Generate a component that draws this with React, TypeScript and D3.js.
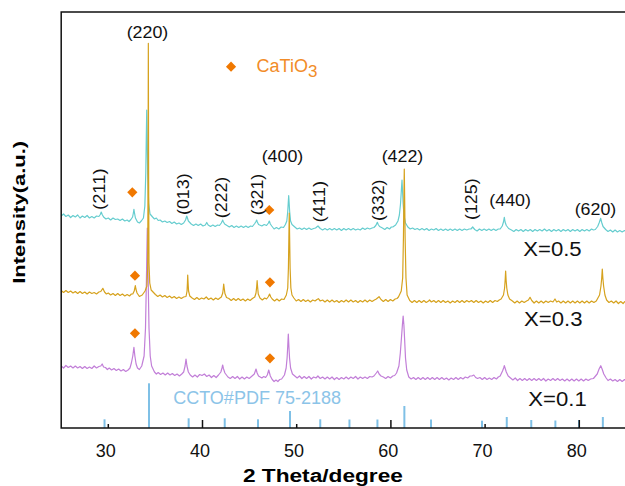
import React from 'react';
import * as d3 from 'd3';

type P = [number, number];

// 2θ range and intensity range (a.u.)
const xDomain: P = [25, 85];
const yDomain: P = [0, 416];
const xTicks = [30, 40, 50, 60, 70, 80];

// X = 0.5 pattern (2θ, intensity)
const traceX05: P[] = [[25,212],[25.25,214],[25.5,211.5],[25.75,213],[26,210.5],[26.25,212.5],[26.5,211],[26.75,213],[27,210],[27.25,212],[27.5,210.5],[27.75,212.5],[28,210],[28.25,211.5],[28.5,210],[28.75,212],[29,211.5],[29.15,213.5],[29.25,216],[29.35,213.5],[29.5,211],[29.75,209],[30,210],[30.25,208],[30.5,210],[30.75,208.5],[31,209],[31.25,207.5],[31.5,209],[31.75,207],[32,208],[32.2,206.5],[32.4,208.5],[32.58,211],[32.66,215],[32.72,218.7],[32.78,215],[32.88,210],[33.1,206],[33.3,205],[33.5,207],[33.73,210],[33.88,222],[33.98,255],[34.03,288],[34.08,318],[34.13,288],[34.18,255],[34.28,225],[34.43,214],[34.7,211],[34.9,209],[35.1,210],[35.3,207.5],[35.5,208],[35.75,206],[36,207],[36.25,205.5],[36.5,206.5],[36.75,204.5],[37,206],[37.25,204],[37.5,205],[37.75,203.5],[38,205],[38.2,208],[38.28,210.5],[38.33,212],[38.4,210],[38.5,207],[38.8,204],[39.05,202.5],[39.3,204],[39.55,202.5],[39.8,204],[40.05,202],[40.3,203],[40.45,205.5],[40.6,203],[40.85,201.5],[41.1,203],[41.35,201.5],[41.6,203],[41.8,202.5],[42,205],[42.1,207],[42.14,208],[42.2,206.5],[42.35,204],[42.6,202.5],[42.85,201],[43.1,202.5],[43.35,200.5],[43.6,202],[43.85,200.5],[44.1,202],[44.35,200.5],[44.6,202],[44.85,200.5],[45.1,202],[45.3,201.5],[45.55,204.5],[45.68,206.5],[45.75,208],[45.82,206],[45.95,203.5],[46.3,202],[46.55,203.5],[46.8,202.5],[47,205],[47.09,207],[47.2,204],[47.35,202],[47.6,199],[47.85,200.5],[48.1,199],[48.35,201],[48.6,200.5],[48.8,203.5],[48.95,207],[49.05,216.5],[49.1,224.5],[49.15,232.3],[49.2,224.5],[49.25,216.5],[49.35,207],[49.5,203.5],[49.8,201],[50.05,199],[50.3,200],[50.55,198.5],[50.8,200],[51.05,198.5],[51.3,200],[51.55,198.5],[51.8,199.5],[52,200],[52.26,202],[52.5,199.5],[52.75,198],[53,199.5],[53.25,198],[53.5,199.5],[53.75,198],[54,199.5],[54.25,198],[54.5,199.5],[54.75,197.5],[55,199.5],[55.25,198],[55.5,199.5],[55.75,198],[56,199.5],[56.25,198],[56.5,199],[56.75,198],[57,200],[57.25,198.5],[57.5,200],[57.75,199],[58,200],[58.2,200.5],[58.4,202.5],[58.5,204.5],[58.56,205.7],[58.65,203.5],[58.8,201.5],[59.1,200],[59.35,198.5],[59.6,200.5],[59.85,199],[60.05,201],[60.2,201],[60.5,203],[60.75,207],[60.9,213],[61.02,224],[61.1,236],[61.18,248],[61.24,236],[61.3,224],[61.4,212],[61.55,205],[61.8,201],[62.05,199],[62.3,200],[62.55,198.5],[62.8,199.5],[63.05,198],[63.3,199.5],[63.55,198],[63.8,199.5],[64.05,197.5],[64.3,199],[64.55,198],[64.8,199.5],[65.05,197.5],[65.3,199],[65.55,197.5],[65.8,199],[66.05,197.5],[66.3,199],[66.55,197.5],[66.8,199],[67.05,197.5],[67.3,199],[67.55,197.5],[67.8,199],[68.05,198],[68.3,199],[68.5,199],[68.68,201],[68.9,198.5],[69.15,197],[69.4,199],[69.65,197.5],[69.9,199],[70.15,197.5],[70.4,199],[70.65,197.5],[70.9,199],[71.15,197.5],[71.4,199],[71.6,199],[71.82,202],[71.95,206],[72.04,210.7],[72.12,206],[72.25,202.5],[72.5,199.5],[72.8,198],[73.05,196.5],[73.3,198.5],[73.55,197],[73.8,198.5],[74.05,196.5],[74.3,198.5],[74.55,197],[74.8,198.5],[75.05,196.5],[75.3,198.5],[75.55,197],[75.8,198.5],[76.05,197],[76.3,199],[76.55,197],[76.8,198.5],[77.05,196.5],[77.3,198.5],[77.55,197],[77.8,198.5],[78.05,196.5],[78.3,198.5],[78.55,197],[78.8,198.5],[79.05,196.5],[79.3,198.5],[79.55,197],[79.8,198.5],[80.05,196.5],[80.3,198.5],[80.55,197],[80.8,198.5],[81.05,197],[81.3,199],[81.5,198],[81.7,198.5],[81.95,201.5],[82.12,205.5],[82.27,209.7],[82.38,205.5],[82.52,201.5],[82.8,198.5],[83.05,196.5],[83.3,198],[83.55,196],[83.8,198],[84.05,196],[84.3,197.5],[84.55,196],[84.8,197.5],[85,196.5]];

// X = 0.3 pattern
const traceX03: P[] = [[25,137.5],[25.25,135.5],[25.5,137.5],[25.75,135.5],[26,137],[26.25,135],[26.5,136.5],[26.75,134.5],[27,136.5],[27.25,134.5],[27.5,136],[27.75,134],[28,136],[28.25,134.5],[28.5,135.5],[28.75,134],[29,136],[29.2,136.5],[29.42,139.7],[29.6,136],[29.8,134],[30,135],[30.25,133],[30.5,134.5],[30.75,132.5],[31,134.5],[31.25,132.5],[31.5,134],[31.75,132],[32,133.5],[32.25,132],[32.45,134],[32.6,134],[32.75,137],[32.82,140],[32.87,142.3],[32.93,139],[33.05,135],[33.3,131.5],[33.6,133],[33.9,137],[34.1,142],[34.18,160],[34.22,250],[34.25,384.7],[34.28,250],[34.32,165],[34.4,145],[34.55,138],[34.75,136],[35,133.5],[35.25,131.5],[35.5,133],[35.75,131],[36,132.5],[36.25,130.5],[36.5,132],[36.75,130],[37,131.5],[37.25,129.5],[37.5,131],[37.75,129.5],[38,131],[38.25,131.5],[38.36,137],[38.4,145],[38.43,153],[38.47,145],[38.52,137],[38.65,132],[38.9,130],[39.15,128.5],[39.4,130.5],[39.65,128.5],[39.9,130],[40.15,129],[40.4,131],[40.65,128.5],[40.9,130],[41.15,128],[41.4,130],[41.65,128.5],[41.85,130],[42,131],[42.15,135],[42.21,140],[42.25,144],[42.3,140],[42.38,134.5],[42.55,130.5],[42.8,129.5],[43.05,127.5],[43.3,129.5],[43.55,127.5],[43.8,129.5],[44.05,127.5],[44.3,129],[44.55,127],[44.8,129],[45.05,127.5],[45.3,129.5],[45.55,131],[45.68,135],[45.75,141],[45.8,147.3],[45.85,141],[45.92,134],[46.1,130],[46.35,128],[46.6,130],[46.8,129],[47,131.5],[47.12,134],[47.25,131],[47.4,129],[47.65,127],[47.9,129],[48.15,127],[48.4,129],[48.65,128.5],[48.9,133],[49.05,140],[49.12,160],[49.17,190],[49.21,215],[49.25,190],[49.3,160],[49.38,140],[49.5,133],[49.7,130],[49.95,127],[50.2,128.5],[50.45,126.5],[50.7,128.5],[50.95,126.5],[51.2,128],[51.45,126],[51.7,128],[51.95,127],[52.15,128.5],[52.3,129.3],[52.5,127],[52.75,128],[53,126],[53.25,128],[53.5,126],[53.75,128],[54,126],[54.25,127.5],[54.5,125.5],[54.75,127.5],[55,126],[55.25,128],[55.5,126],[55.75,128],[56,126],[56.25,127.5],[56.5,125.5],[56.75,127.5],[57,126],[57.25,128],[57.5,126],[57.75,128],[58,126.5],[58.25,128],[58.45,129],[58.74,131.3],[58.95,128.5],[59.2,126.5],[59.45,128.5],[59.7,126.5],[59.95,128.5],[60.2,127],[60.45,129],[60.65,129.5],[60.8,131],[61.1,137],[61.25,150],[61.33,190],[61.38,230],[61.42,259],[61.46,230],[61.51,190],[61.6,150],[61.72,133],[62,127.5],[62.25,125.5],[62.5,127.5],[62.75,125.5],[63,127.5],[63.25,125.5],[63.5,127.5],[63.75,125.5],[64,127],[64.1,128],[64.3,126],[64.55,127.5],[64.8,125.5],[65.05,127.5],[65.3,125.5],[65.55,127.5],[65.8,125.5],[66.05,127],[66.3,125],[66.55,127],[66.8,125.5],[67.05,127.5],[67.3,125.5],[67.55,127.5],[67.8,125.5],[68.05,127.5],[68.3,126],[68.55,127.5],[68.8,125.5],[69.05,127.5],[69.3,125.5],[69.55,127],[69.8,125],[70.05,127],[70.3,125.5],[70.55,127.5],[70.8,125.5],[71.05,127.5],[71.3,126.5],[71.5,128],[71.7,129],[71.95,133],[72.07,140],[72.13,148],[72.18,157],[72.23,148],[72.3,140],[72.42,133],[72.6,129],[72.9,127],[73.15,125],[73.4,127],[73.65,125],[73.9,127],[74.15,125.5],[74.4,127],[74.6,128],[74.77,130.7],[74.95,127.5],[75.2,125],[75.45,127],[75.7,125],[75.95,127],[76.2,125],[76.45,127],[76.7,125.5],[76.95,127],[77.2,126],[77.42,129],[77.6,126],[77.8,127],[78.05,125],[78.3,127],[78.55,125],[78.8,127],[79.05,125],[79.3,127],[79.55,125],[79.8,127],[80.05,125],[80.3,127],[80.55,125],[80.8,127],[81.05,125],[81.3,127],[81.55,125.5],[81.8,127],[82.15,133],[82.3,142],[82.38,150],[82.44,159],[82.5,150],[82.58,142],[82.72,133],[82.9,128],[83.15,125.5],[83.4,127],[83.65,125],[83.9,127],[84.15,124.5],[84.4,126.5],[84.65,124.5],[84.85,126.5],[85,125.5]];

// X = 0.1 pattern
const traceX01: P[] = [[25,62],[25.25,60],[25.5,62.5],[25.75,60.5],[26,62],[26.25,60],[26.5,62],[26.75,60],[27,61.5],[27.25,59.5],[27.5,61.5],[27.75,59.5],[28,61],[28.25,59.5],[28.5,62],[28.75,60],[29,61.5],[29.2,62],[29.35,64],[29.5,61],[29.7,60.5],[29.9,58.5],[30.1,60],[30.35,58],[30.6,59.5],[30.85,57.5],[31.1,59],[31.35,57],[31.6,58.5],[31.85,56.5],[32.1,58],[32.3,60],[32.45,65],[32.6,72],[32.72,80.7],[32.82,72],[32.95,64],[33.1,60],[33.3,58.5],[33.55,62],[33.8,72],[33.95,100],[34.05,150],[34.14,200],[34.23,150],[34.32,100],[34.45,72],[34.6,62],[34.9,56],[35.1,54],[35.3,55.5],[35.55,53.5],[35.8,55],[36.05,53],[36.3,55],[36.55,53],[36.8,54.5],[37.05,52.5],[37.3,54],[37.55,52],[37.8,54],[38,56],[38.15,62],[38.25,69],[38.35,62],[38.5,56],[38.7,53],[38.95,51],[39.2,53],[39.45,51],[39.7,53.5],[39.95,52.5],[40.2,54],[40.45,51.5],[40.7,53],[40.95,50.5],[41.2,52.5],[41.45,50.5],[41.7,53],[41.95,56],[42.07,60],[42.14,63],[42.22,59.5],[42.38,55],[42.7,51],[42.95,49.5],[43.2,51.5],[43.45,49.5],[43.7,51.5],[43.95,49],[44.2,51],[44.45,49],[44.7,51],[44.95,49.5],[45.2,51.5],[45.5,54],[45.68,59],[45.8,55],[45.95,52],[46.3,50],[46.5,51.5],[46.7,50.5],[46.88,53],[47.03,58],[47.2,52],[47.4,48.5],[47.6,46.5],[47.8,48],[48,46.5],[48.2,48.5],[48.4,49],[48.7,53],[48.88,60],[48.98,70],[49.05,82],[49.11,94],[49.17,82],[49.24,70],[49.35,60],[49.55,54],[49.8,52],[50.05,50],[50.3,52],[50.55,49.5],[50.8,51.5],[51.05,49.5],[51.3,51.5],[51.55,49],[51.8,51],[52.05,50],[52.25,52],[52.5,49.5],[52.75,51],[53,49],[53.25,51],[53.5,49],[53.75,51],[54,48.5],[54.25,50.5],[54.5,48.5],[54.75,50.5],[55,49],[55.25,51],[55.5,49],[55.75,51],[56,49.5],[56.25,51.5],[56.5,49],[56.75,51],[57,49.5],[57.25,51],[57.5,49.5],[57.75,51.5],[58,51],[58.2,52],[58.45,55],[58.6,57],[58.75,54],[58.95,52],[59.2,51],[59.45,49.5],[59.7,51.5],[59.95,50],[60.2,52],[60.4,52.5],[60.6,55],[60.85,62],[61,75],[61.12,90],[61.22,103],[61.3,112],[61.38,103],[61.46,88],[61.55,70],[61.68,58],[61.9,51],[62.15,49],[62.4,50.5],[62.65,48.5],[62.9,50.5],[63.15,48.5],[63.4,50.5],[63.65,48.5],[63.9,50.5],[64.15,48.5],[64.4,50.5],[64.65,48.5],[64.9,50.5],[65.15,48.5],[65.4,50.5],[65.65,48.5],[65.9,50],[66.15,48],[66.4,50],[66.65,48.5],[66.9,50.5],[67.15,48.5],[67.4,50.5],[67.65,49],[67.9,51],[68.15,50],[68.4,52],[68.6,52],[68.8,53],[69,50.5],[69.2,49.5],[69.45,50.5],[69.7,48.5],[69.95,50.5],[70.2,48.5],[70.45,50],[70.7,48.5],[70.95,50.5],[71.2,49],[71.4,51],[71.6,52],[71.85,57],[71.97,60],[72.04,62.3],[72.12,60],[72.25,56],[72.45,52],[72.7,50],[72.95,48],[73.2,50],[73.45,47.5],[73.7,49.5],[73.95,47.5],[74.2,49.5],[74.45,47.5],[74.7,49.5],[74.95,47.5],[75.2,49.5],[75.45,47.5],[75.7,49.5],[75.95,47.5],[76.2,49.5],[76.45,47],[76.7,49],[76.95,47.5],[77.2,49.5],[77.45,47.5],[77.7,49.5],[77.95,47.5],[78.2,49],[78.45,47],[78.7,49],[78.95,47],[79.2,49],[79.45,47],[79.7,49],[79.95,47],[80.2,49],[80.45,47],[80.7,49],[80.95,47.5],[81.2,49],[81.5,49.5],[81.9,54],[82.1,59],[82.28,62.3],[82.42,59],[82.6,54],[82.85,50],[83.05,47.5],[83.3,49],[83.55,47],[83.8,48.5],[84.05,46.5],[84.3,48.5],[84.55,46.5],[84.8,48.5],[85,47]];

// CCTO reference pattern (PDF 75-2188): 2θ, relative stick height
const refPos = [29.6, 34.32, 38.53, 42.36, 45.89, 49.29, 52.5, 55.6, 58.57, 61.43, 64.26, 69.67, 72.3, 74.9, 77.46, 79.97, 82.5];
const refHeight = [8.7, 44.7, 9.7, 9.7, 8.7, 17, 8.7, 8.5, 8.5, 22, 8.5, 7.3, 11, 8, 7.5, 8, 11];

// CaTiO3 markers (2θ, intensity)
const caTiO3Marks: P[] = [[32.55, 235.7], [47.09, 218], [32.83, 152.3], [47.16, 145.7], [32.83, 94.7], [47.16, 69.7]];

// hkl labels: text, 2θ, intensity, rotated
const hklLabels: [string, number, number, boolean][] = [
  ['(220)', 34.16, 390, false],
  ['(400)', 48.49, 266.5, false],
  ['(422)', 61.23, 266.5, false],
  ['(440)', 72.66, 222.3, false],
  ['(620)', 81.72, 213.3, false],
  ['(211)', 29.2, 238.8, true],
  ['(013)', 38.11, 233.8, true],
  ['(222)', 42.16, 230.5, true],
  ['(321)', 45.97, 233.5, true],
  ['(411)', 52.56, 226.3, true],
  ['(332)', 58.76, 227.7, true],
  ['(125)', 68.66, 228.8, true],
];

// sample labels: text, 2θ (center), intensity (baseline)
const sampleLabels: [string, number, number][] = [
  ['X=0.5', 77.15, 172],
  ['X=0.3', 77.24, 102],
  ['X=0.1', 77.69, 22],
];

const legendMark: P = [43.03, 361.3];
const legendText: P = [45.74, 355.7];
const refLabel: P = [36.89, 24];

const FONT = '"Liberation Sans", Arial, Helvetica, sans-serif';

export default function App() {
  const W = 625, H = 486;
  const top = 12, bottom = 428;
  const x = d3.scaleLinear().domain(xDomain).range([61.2, 626.4]);
  const y = d3.scaleLinear().domain(yDomain).range([bottom, top]);
  const line = d3.line<P>().x(d => x(d[0])).y(d => y(d[1]));
  const diamond = d3.symbol().type(d3.symbolSquare).size(52)() as string;

  const series: [P[], string][] = [
    [traceX01, '#C27FD8'],
    [traceX05, '#66CDCF'],
    [traceX03, '#D6A21E'],
  ];

  return (
    <svg width={W} height={H} style={{ position: 'absolute', left: 0, top: 0, background: '#fff' }} fontFamily={FONT}>
      <rect x={0} y={0} width={W} height={H} fill="#fff" />
      {/* reference sticks */}
      {refPos.map((p, i) => (
        <line key={'r' + i} x1={x(p)} x2={x(p)} y1={y(0)} y2={y(refHeight[i])} stroke="#7FC0E6" strokeWidth={2} />
      ))}
      <text x={x(refLabel[0])} y={y(refLabel[1])} fontSize={18} fill="#8CC4E8">CCTO#PDF 75-2188</text>

      {/* traces */}
      {series.map(([d, c], i) => (
        <path key={'s' + i} d={line(d) as string} fill="none" stroke={c} strokeWidth={1.2} strokeLinejoin="round" />
      ))}

      {/* CaTiO3 markers */}
      {caTiO3Marks.map((m, i) => (
        <path key={'m' + i} d={diamond} transform={`translate(${x(m[0])},${y(m[1])}) rotate(45)`} fill="#F07800" />
      ))}
      <path d={diamond} transform={`translate(${x(legendMark[0])},${y(legendMark[1])}) rotate(45)`} fill="#F07800" />
      <text x={x(legendText[0])} y={y(legendText[1])} fontSize={18} fill="#F28C28">
        CaTiO<tspan fontSize={17} dy={5}>3</tspan>
      </text>

      {/* hkl labels */}
      {hklLabels.map(([t, p, v, rot], i) =>
        rot ? (
          <text key={'h' + i} transform={`translate(${x(p)},${y(v)}) rotate(-90)`} textAnchor="middle" dy="0.26em"
            fontSize={16.5} textLength={41.6} lengthAdjust="spacingAndGlyphs" fill="#111">{t}</text>
        ) : (
          <text key={'h' + i} x={x(p)} y={y(v)} textAnchor="middle" fontSize={16.5} textLength={41.6}
            lengthAdjust="spacingAndGlyphs" fill="#111">{t}</text>
        )
      )}

      {/* sample labels */}
      {sampleLabels.map(([t, p, v], i) => (
        <text key={'l' + i} x={x(p)} y={y(v)} textAnchor="middle" fontSize={20} textLength={58.4}
          lengthAdjust="spacingAndGlyphs" fill="#111">{t}</text>
      ))}

      {/* frame */}
      <rect x={x(xDomain[0])} y={top} width={x(xDomain[1]) - x(xDomain[0])} height={bottom - top} fill="none" stroke="#111" strokeWidth={1.5} />
      {xTicks.map((t, i) => (
        <g key={'t' + i}>
          <line x1={x(t)} x2={x(t)} y1={bottom} y2={bottom - (i % 2 === 0 ? 4 : 8)} stroke="#111" strokeWidth={1.5} />
          <text x={x(t) - 2.6} y={456.7} textAnchor="middle" fontSize={18} fill="#111">{t}</text>
        </g>
      ))}

      {/* axis titles */}
      <text x={322.9} y={481.5} textAnchor="middle" fontSize={18} fontWeight="bold" textLength={160}
        lengthAdjust="spacingAndGlyphs" fill="#000">2 Theta/degree</text>
      <text transform={`translate(25,212.3) rotate(-90)`} textAnchor="middle" fontSize={16.5} fontWeight="bold"
        textLength={143} lengthAdjust="spacingAndGlyphs" fill="#000">Intensity(a.u.)</text>
    </svg>
  );
}
